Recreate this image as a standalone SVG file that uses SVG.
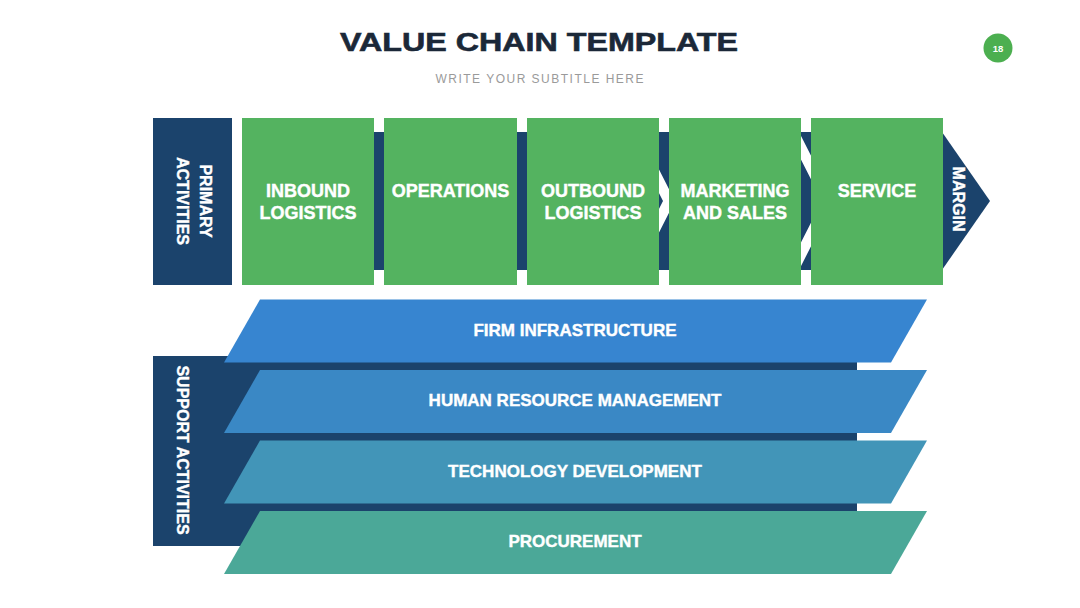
<svg xmlns="http://www.w3.org/2000/svg" width="1080" height="608" viewBox="0 0 1080 608">
  <style>
    .navy { fill: #1b436c; }
    .green { fill: #54b360; }
    .gap { fill: #ffffff; }
    .lbl { font-family: "Liberation Sans", Arial, sans-serif; font-weight: bold; fill: #ffffff; stroke: #ffffff; stroke-width: 0.4; text-anchor: middle; }
    .box { font-size: 18px; }
    .sup { font-size: 17px; }
    .rot { font-size: 16px; }
  </style>
  <rect width="1080" height="608" fill="#ffffff"/>

  <g id="header">
    <text x="539" y="51" font-family="Liberation Sans, Arial, sans-serif" font-weight="bold" font-size="26" fill="#1b2838" stroke="#1b2838" stroke-width="0.6" text-anchor="middle" textLength="398" lengthAdjust="spacingAndGlyphs">VALUE CHAIN TEMPLATE</text>
    <text x="539.5" y="83" font-family="Liberation Sans, Arial, sans-serif" font-size="12" fill="#9a9a9a" text-anchor="middle" textLength="208" lengthAdjust="spacing">WRITE YOUR SUBTITLE HERE</text>
  </g>

  <g id="page-badge">
    <circle cx="998" cy="48" r="14.5" fill="#4caf50"/>
    <text x="998" y="51.5" font-family="Liberation Sans, Arial, sans-serif" font-weight="bold" font-size="9.5" fill="#ffffff" text-anchor="middle">18</text>
  </g>

  <g id="connectors">
    <rect class="navy" x="374" y="132" width="569" height="138"/>
    <polygon class="navy" points="942,132 990,201 942,270"/>
    <polygon class="gap" points="470,132 505,201 470,270 482,270 517,201 482,132"/>
    <polygon class="gap" points="628,132 663,201 628,270 640,270 675,201 640,132"/>
    <polygon class="gap" points="787,132 822,201 787,270 799,270 834,201 799,132"/>
  </g>

  <g id="primary-activities">
    <rect class="navy" x="153" y="118" width="79" height="167"/>
    <g transform="translate(192,201) rotate(90)">
      <text class="lbl rot" x="0" y="-8" font-size="17">PRIMARY</text>
      <text class="lbl rot" x="0" y="15" font-size="17">ACTIVITIES</text>
    </g>
  </g>

  <g id="inbound-logistics">
    <rect class="green" x="242" y="118" width="132" height="167"/>
    <text class="lbl box" x="308" y="197">INBOUND</text>
    <text class="lbl box" x="308" y="219">LOGISTICS</text>
  </g>
  <g id="operations">
    <rect class="green" x="384" y="118" width="133" height="167"/>
    <text class="lbl box" x="450.5" y="197">OPERATIONS</text>
  </g>
  <g id="outbound-logistics">
    <rect class="green" x="527" y="118" width="132" height="167"/>
    <text class="lbl box" x="593" y="197">OUTBOUND</text>
    <text class="lbl box" x="593" y="219">LOGISTICS</text>
  </g>
  <g id="marketing-and-sales">
    <rect class="green" x="669" y="118" width="132" height="167"/>
    <text class="lbl box" x="735" y="197">MARKETING</text>
    <text class="lbl box" x="735" y="219">AND SALES</text>
  </g>
  <g id="service">
    <rect class="green" x="811" y="118" width="132" height="167"/>
    <text class="lbl box" x="877" y="197">SERVICE</text>
  </g>
  <g id="margin">
    <g transform="translate(953,199) rotate(90)">
      <text class="lbl rot" x="0" y="0">MARGIN</text>
    </g>
  </g>

  <g id="support-activities">
    <rect class="navy" x="153" y="356" width="704" height="190"/>
    <g transform="translate(177,450) rotate(90)">
      <text class="lbl rot" x="0" y="0">SUPPORT ACTIVITIES</text>
    </g>
  </g>

  <g id="firm-infrastructure">
    <polygon fill="#3785d0" points="260,299.5 927,299.5 891,362.5 224,362.5"/>
    <text class="lbl sup" x="575" y="335.5">FIRM INFRASTRUCTURE</text>
  </g>
  <g id="human-resource-management">
    <polygon fill="#3a88c5" points="260,370 927,370 891,433 224,433"/>
    <text class="lbl sup" x="575" y="406">HUMAN RESOURCE MANAGEMENT</text>
  </g>
  <g id="technology-development">
    <polygon fill="#4295b8" points="260,440.5 927,440.5 891,503.5 224,503.5"/>
    <text class="lbl sup" x="575" y="476.5">TECHNOLOGY DEVELOPMENT</text>
  </g>
  <g id="procurement">
    <polygon fill="#4ba898" points="260,511 927,511 891,574 224,574"/>
    <text class="lbl sup" x="575" y="547">PROCUREMENT</text>
  </g>
</svg>
